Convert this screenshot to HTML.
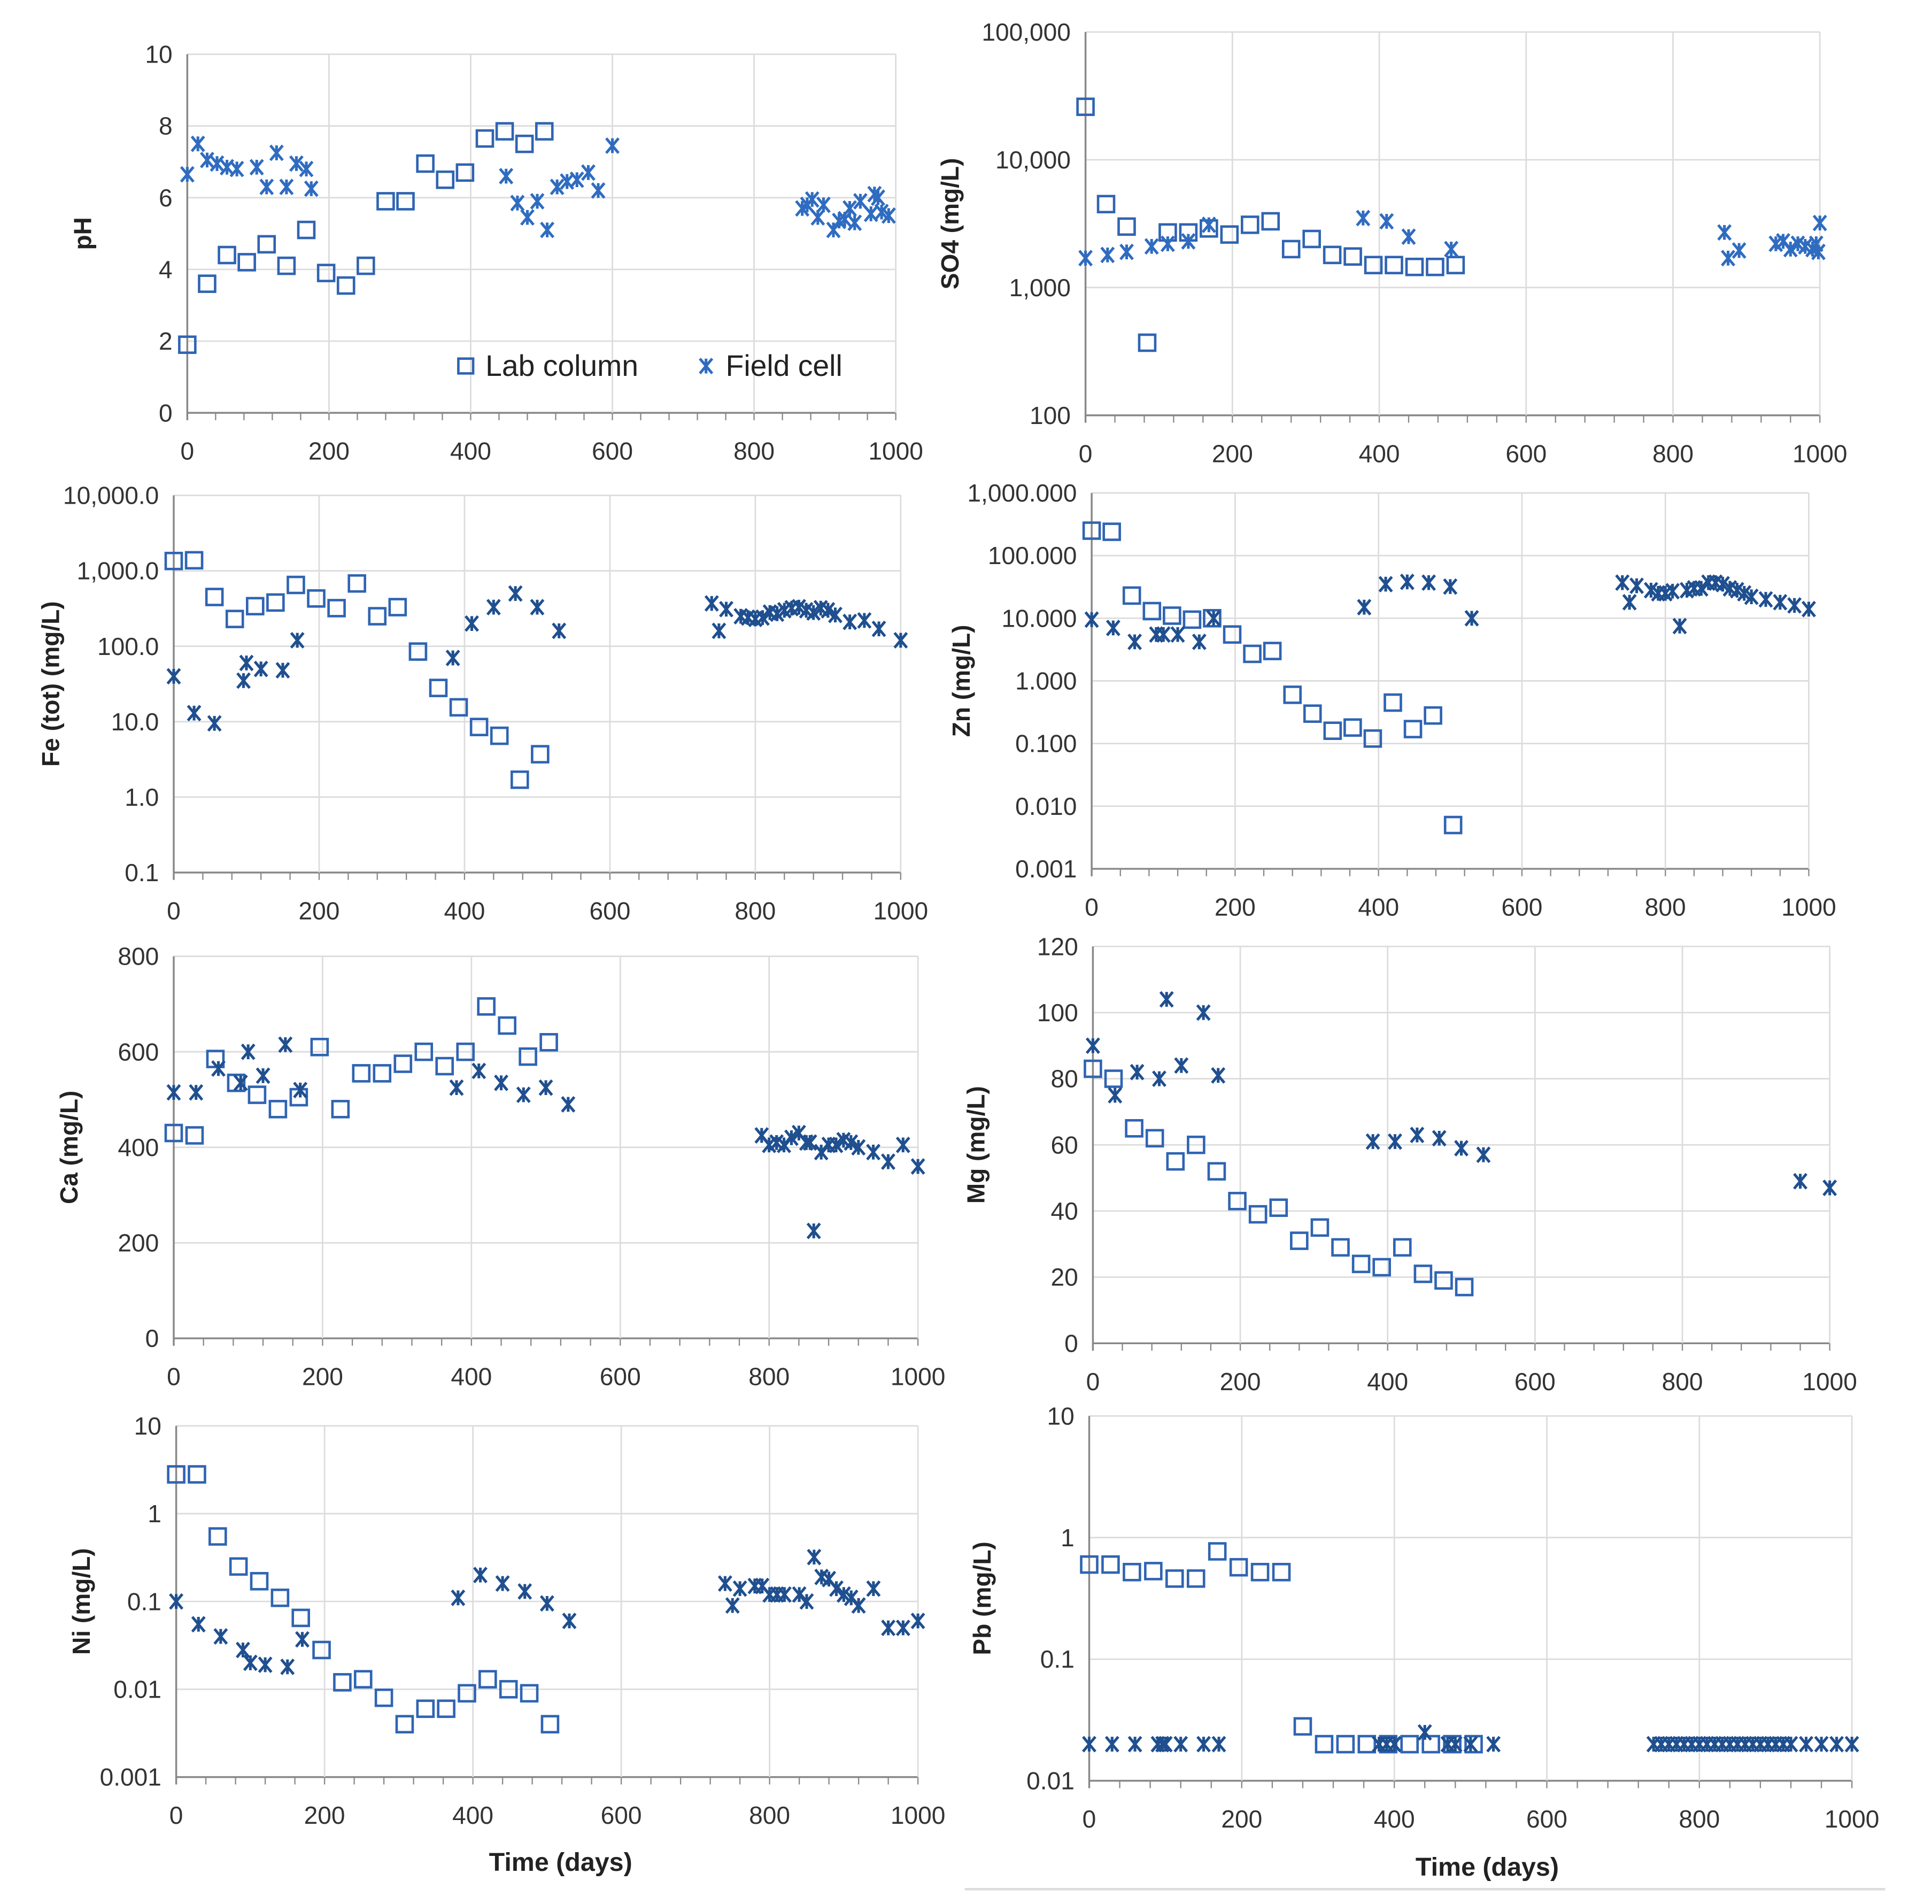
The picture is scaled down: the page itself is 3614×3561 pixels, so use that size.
<!DOCTYPE html>
<html><head><meta charset="utf-8"><style>
html,body{margin:0;padding:0;background:#fff;}
svg{display:block;font-family:"Liberation Sans",sans-serif;}
</style></head><body>
<svg id="fig" width="3614" height="3561" viewBox="0 0 1568 1545" preserveAspectRatio="none" xmlns="http://www.w3.org/2000/svg">
<line x1="783" y1="1533" x2="1530" y2="1533" stroke="#ddd" stroke-width="2"/>
</svg>
<script>
// ---- data ----
const phLabX=[0,28,56,84,112,140,168,196,224,252,280,308,336,364,392,420,448,476,504];
const phLabY=[1.9,3.6,4.4,4.2,4.7,4.1,5.1,3.9,3.55,4.1,5.9,5.9,6.95,6.5,6.7,7.65,7.85,7.5,7.85];
const phFieldX=[0,15,28,42,56,70,98,112,126,140,154,168,175,450,466,480,494,508,522,536,550,566,580,600,868,875,882,890,898,912,920,928,935,942,950,965,970,975,980,990];
const phFieldY=[6.65,7.5,7.05,6.95,6.85,6.8,6.85,6.3,7.25,6.3,6.95,6.8,6.25,6.6,5.85,5.45,5.9,5.1,6.3,6.45,6.5,6.7,6.2,7.45,5.7,5.8,5.95,5.45,5.8,5.1,5.35,5.4,5.7,5.3,5.9,5.55,6.1,6.0,5.6,5.5];
const so4LabX=[0,28,56,84,112,140,168,196,224,252,280,308,336,364,392,420,448,476,504];
const so4LabY=[26000,4500,3000,370,2700,2700,2900,2600,3100,3300,2000,2400,1800,1750,1500,1500,1450,1450,1500];
const so4FieldX=[0,30,56,90,112,140,168,378,410,440,498,870,875,890,940,950,960,970,980,990,995,998,1000];
const so4FieldY=[1700,1800,1900,2100,2200,2300,3100,3500,3300,2500,2000,2700,1700,1950,2200,2300,2000,2200,2100,2000,2200,1900,3200];
const feLabX=[0,28,56,84,112,140,168,196,224,252,280,308,336,364,392,420,448,476,504];
const feLabY=[1350,1380,450,230,340,380,650,430,320,680,250,330,85,28,15.5,8.5,6.5,1.7,3.7];
const feFieldX=[0,28,56,96,100,120,150,170,384,410,440,470,500,530,740,750,760,780,790,800,810,820,830,840,850,860,870,880,890,900,910,930,950,970,1000];
const feFieldY=[40,13,9.5,35,60,50,48,120,70,200,330,500,330,160,370,160,310,250,240,230,240,280,270,300,320,330,300,280,320,300,260,210,220,170,120];
const znLabX=[0,28,56,84,112,140,168,196,224,252,280,308,336,364,392,420,448,476,504];
const znLabY=[250,240,23,13,11,9.5,10,5.5,2.7,3.0,0.6,0.3,0.16,0.18,0.12,0.45,0.17,0.28,0.005];
const znFieldX=[0,30,60,90,100,120,150,170,380,410,440,470,500,530,740,750,760,780,790,800,810,820,830,840,850,860,870,880,890,900,910,920,940,960,980,1000];
const znFieldY=[9.5,7,4.2,5.5,5.5,5.5,4.2,10,15,35,38,37,32,10,37,18,33,28,25,25,27,7.5,28,30,30,37,37,35,30,28,25,22,20,18,16,14];
const caLabX=[0,28,56,84,112,140,168,196,224,252,280,308,336,364,392,420,448,476,504];
const caLabY=[430,425,585,535,510,480,505,610,480,555,555,575,600,570,600,695,655,590,620];
const caFieldX=[0,30,60,90,100,120,150,170,380,410,440,470,500,530,790,800,810,820,830,840,850,855,860,870,880,890,900,910,920,940,960,980,1000];
const caFieldY=[515,515,565,535,600,550,615,520,525,560,535,510,525,490,425,405,410,405,420,430,410,410,225,390,405,405,415,410,400,390,370,405,360];
const mgLabX=[0,28,56,84,112,140,168,196,224,252,280,308,336,364,392,420,448,476,504];
const mgLabY=[83,80,65,62,55,60,52,43,39,41,31,35,29,24,23,29,21,19,17];
const mgFieldX=[0,30,60,90,100,120,150,170,380,410,440,470,500,530,960,1000];
const mgFieldY=[90,75,82,80,104,84,100,81,61,61,63,62,59,57,49,47];
const niLabX=[0,28,56,84,112,140,168,196,224,252,280,308,336,364,392,420,448,476,504];
const niLabY=[2.8,2.8,0.55,0.25,0.17,0.11,0.065,0.028,0.012,0.013,0.008,0.004,0.006,0.006,0.009,0.013,0.01,0.009,0.004];
const niFieldX=[0,30,60,90,100,120,150,170,380,410,440,470,500,530,740,750,760,780,790,800,810,820,840,850,860,870,880,890,900,910,920,940,960,980,1000];
const niFieldY=[0.1,0.055,0.04,0.028,0.02,0.019,0.018,0.037,0.11,0.2,0.16,0.13,0.095,0.06,0.16,0.09,0.14,0.15,0.15,0.12,0.12,0.12,0.12,0.1,0.32,0.19,0.18,0.14,0.12,0.11,0.09,0.14,0.05,0.05,0.06];
const pbLabX=[0,28,56,84,112,140,168,196,224,252,280,308,336,364,392,420,448,476,504];
const pbLabY=[0.6,0.6,0.52,0.53,0.46,0.46,0.77,0.57,0.52,0.52,0.028,0.02,0.02,0.02,0.02,0.02,0.02,0.02,0.02];
const pbFieldX=[0,30,60,90,96,100,120,150,170,380,390,400,440,470,480,500,530,740,750,760,770,780,790,800,810,820,830,840,850,860,870,880,890,900,910,920,940,960,980,1000];
const pbFieldY=[0.02,0.02,0.02,0.02,0.02,0.02,0.02,0.02,0.02,0.02,0.02,0.02,0.025,0.02,0.02,0.02,0.02,0.02,0.02,0.02,0.02,0.02,0.02,0.02,0.02,0.02,0.02,0.02,0.02,0.02,0.02,0.02,0.02,0.02,0.02,0.02,0.02,0.02,0.02,0.02];
const xTicks=[0,200,400,600,800,1000];
const phTicks=["0","2","4","6","8","10"];
const caTicks=["0","200","400","600","800"];
const mgTicks=["0","20","40","60","80","100","120"];
const so4Ticks=["100","1,000","10,000","100,000"];
const feTicks=["0.1","1.0","10.0","100.0","1,000.0","10,000.0"];
const znTicks=["0.001","0.010","0.100","1.000","10.000","100.000","1,000.000"];
const niTicks=["0.001","0.01","0.1","1","10"];
const pbTicks=["0.01","0.1","1","10"];

const NS="http://www.w3.org/2000/svg";
const svg=document.getElementById('fig');
function mk(tag,attrs,parent){const e=document.createElementNS(NS,tag);for(const k in attrs)e.setAttribute(k,attrs[k]);(parent||svg).appendChild(e);return e;}

function panel(cfg){
  const g=mk('g',{});
  
  
  const {x0,x1,yt,yb}=cfg;
  const sx=v=>x0+(x1-x0)*v/1000;
  let sy;
  if(cfg.log){const a=Math.log10(cfg.min),b=Math.log10(cfg.max);sy=v=>yb-(yb-yt)*(Math.log10(v)-a)/(b-a);}
  else sy=v=>yb-(yb-yt)*(v-cfg.min)/(cfg.max-cfg.min);
  const n=cfg.ticks.length;
  for(let i=0;i<n;i++){
    const y=yt+(yb-yt)*(n-1-i)/(n-1);
    const gl=mk('line',{x1:x0,x2:x1,y1:y,y2:y,stroke:i==0?'#888':'#dcdcdc','stroke-width':i==0?1.5:1.2},g);
    
    
    const t=mk('text',{x:x0-12,y:y+7,'text-anchor':'end','font-size':20,fill:'#333'},g);
    t.textContent=cfg.ticks[i];
    
    
  }
  xTicks.forEach(v=>{
    if(v>0){const l=mk('line',{x1:sx(v),x2:sx(v),y1:yt,y2:yb,stroke:'#dcdcdc','stroke-width':1.2},g);
      }
    const t=mk('text',{x:sx(v),y:yb+38,'text-anchor':'middle','font-size':20,fill:'#333'},g);
    t.textContent=String(v);
    
    
  });
  for(let v=0;v<=1000;v+=40){mk('line',{x1:sx(v),x2:sx(v),y1:yb,y2:yb+6,stroke:'#888','stroke-width':1},g);}
  const ax=mk('line',{x1:x0,x2:x0,y1:yt,y2:yb+6,stroke:'#888','stroke-width':1.5},g);
  
  const tt=mk('text',{x:cfg.tx,y:(yt+yb)/2,'text-anchor':'middle','font-size':20,'font-weight':'bold',fill:'#222',transform:`rotate(-90 ${cfg.tx} ${(yt+yb)/2})`},g);
  tt.textContent=cfg.title;
  
  
  cfg.labX.forEach((xv,i)=>{
    const r=mk('rect',{x:sx(xv)-6.5,y:sy(cfg.labY[i])-6.5,width:13,height:13,fill:'none',stroke:'#2f64b3','stroke-width':2},g);
    
    
  });
  cfg.fieldX.forEach((xv,i)=>{
    const cx=sx(xv),cy=sy(cfg.fieldY[i]);
    const p=mk('path',{d:`M${cx-5} ${cy-6}L${cx+5} ${cy+6}M${cx+5} ${cy-6}L${cx-5} ${cy+6}M${cx} ${cy-6}L${cx} ${cy+6}`,stroke:cfg.dark?'#1f4f8f':'#2f6cc0','stroke-width':2.2,fill:'none'},g);
    
    
  });
}
panel({name:'ph',x0:152,x1:727,yt:44,yb:335,min:0,max:10,ticks:phTicks,title:'pH',tx:74,labX:phLabX,labY:phLabY,fieldX:phFieldX,fieldY:phFieldY});
panel({name:'so4',x0:881,x1:1477,yt:26,yb:337,log:true,min:100,max:100000,ticks:so4Ticks,title:'SO4 (mg/L)',tx:778,labX:so4LabX,labY:so4LabY,fieldX:so4FieldX,fieldY:so4FieldY});
panel({name:'fe',x0:141,x1:731,yt:402,yb:708,log:true,min:0.1,max:10000,ticks:feTicks,title:'Fe (tot)  (mg/L)',tx:48,labX:feLabX,labY:feLabY,fieldX:feFieldX,fieldY:feFieldY,dark:true});
panel({name:'zn',x0:886,x1:1468,yt:400,yb:705,log:true,min:0.001,max:1000,ticks:znTicks,title:'Zn (mg/L)',tx:787,labX:znLabX,labY:znLabY,fieldX:znFieldX,fieldY:znFieldY,dark:true});
panel({name:'ca',x0:141,x1:745,yt:776,yb:1086,min:0,max:800,ticks:caTicks,title:'Ca (mg/L)',tx:63,labX:caLabX,labY:caLabY,fieldX:caFieldX,fieldY:caFieldY,dark:true});
panel({name:'mg',x0:887,x1:1485,yt:768,yb:1090,min:0,max:120,ticks:mgTicks,title:'Mg (mg/L)',tx:799,labX:mgLabX,labY:mgLabY,fieldX:mgFieldX,fieldY:mgFieldY,dark:true});
panel({name:'ni',x0:143,x1:745,yt:1157,yb:1442,log:true,min:0.001,max:10,ticks:niTicks,title:'Ni (mg/L)',tx:73,labX:niLabX,labY:niLabY,fieldX:niFieldX,fieldY:niFieldY,dark:true});
panel({name:'pb',x0:884,x1:1503,yt:1149,yb:1445,log:true,min:0.01,max:10,ticks:pbTicks,title:'Pb (mg/L)',tx:804,labX:pbLabX,labY:pbLabY,fieldX:pbFieldX,fieldY:pbFieldY,dark:true});

const xt1=mk('text',{x:455,y:1518,'text-anchor':'middle','font-size':21,'font-weight':'bold',fill:'#222'});
xt1.textContent='Time (days)';


const xt2=mk('text',{x:1207,y:1522,'text-anchor':'middle','font-size':21,'font-weight':'bold',fill:'#222'});
xt2.textContent='Time (days)';



const lg=mk('g',{});


const ls=mk('rect',{x:372,y:291,width:12,height:12,fill:'none',stroke:'#2f64b3','stroke-width':2},lg);


const lt=mk('text',{x:394,y:305,'font-size':24,fill:'#222'},lg);
lt.textContent='Lab column';


const lf=mk('path',{d:'M568 291L578 303M578 291L568 303M573 291L573 303',stroke:'#2f6cc0','stroke-width':2.2},lg);


const lft=mk('text',{x:589,y:305,'font-size':24,fill:'#222'},lg);
lft.textContent='Field cell';


</script>
</body></html>
